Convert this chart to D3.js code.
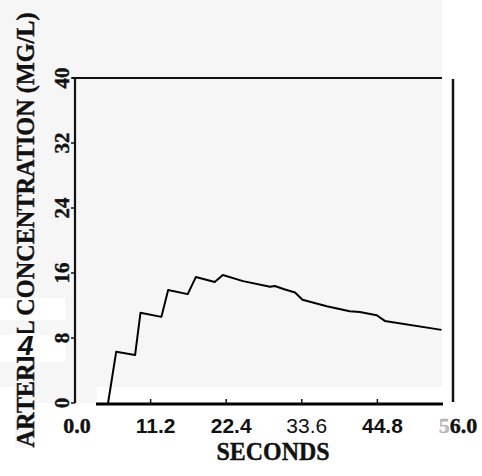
<!DOCTYPE html>
<meta charset="utf-8">
<style>
body { margin: 0; background: #fff; }
.serif { font-family: "Liberation Serif", "Times New Roman", serif; font-weight: bold; fill: #111; stroke: #111; stroke-width: 0.4px; }
.sans { font-family: "Liberation Sans", Arial, sans-serif; fill: #111; }
</style>
<body>
<svg width="482" height="476" id="chart"></svg>
<script src="https://d3js.org/d3.v7.min.js"></script>
<script>

// curve
var seconds = [4.9, 6.1, 8.9, 9.7, 12.8, 13.8, 16.7, 17.9, 20.7, 21.9, 24.9, 28.9, 29.6, 31.0, 32.6, 33.7, 37.3, 40.7, 42.2, 44.7, 45.9, 54.3];
var concentration = [0, 6.3, 5.9, 11.1, 10.6, 13.9, 13.4, 15.5, 14.9, 15.75, 15.0, 14.3, 14.4, 14.0, 13.6, 12.7, 11.9, 11.3, 11.2, 10.8, 10.1, 9.0];

var xTicks = [0, 11.2, 22.4, 33.6, 44.8, 56];
var xTickLabels = ["0.0", "11.2", "22.4", "33.6", "44.8", "56.0"];
var yTicks = [0, 8, 16, 24, 32, 40];

var svg = d3.select("svg"),
    width = +svg.attr("width"),
    height = +svg.attr("height");

var x = d3.scaleLinear().domain([0, 56]).range([75, 453]);
var y = d3.scaleLinear().domain([0, 40]).range([403, 78]);

// scanned page background, grey with some white patches
var grey = "#f6f6f6";
svg.append("rect").attr("x", 0).attr("y", 0).attr("width", 442).attr("height", 387).attr("fill", grey);
svg.append("rect").attr("x", 15).attr("y", 387).attr("width", 82).attr("height", 16).attr("fill", grey);
svg.append("rect").attr("x", 15).attr("y", 403).attr("width", 20).attr("height", 45).attr("fill", grey);
svg.append("rect").attr("x", 0).attr("y", 298).attr("width", 65).attr("height", 22).attr("fill", "#fff");
svg.append("rect").attr("x", 0).attr("y", 335).attr("width", 65).attr("height", 27).attr("fill", "#fff");

// frame
svg.append("line").attr("x1", 72).attr("x2", 442).attr("y1", y(40)).attr("y2", y(40))
    .attr("stroke", "#111").attr("stroke-width", 2.2);
svg.append("line").attr("x1", x(56)).attr("x2", x(56)).attr("y1", y(40) + 1).attr("y2", y(0) - 1)
    .attr("stroke", "#111").attr("stroke-width", 2.5);
svg.append("line").attr("x1", x(0)).attr("x2", x(0)).attr("y1", y(40)).attr("y2", y(0))
    .attr("stroke", "#111").attr("stroke-width", 2.2);
svg.append("line").attr("x1", 96).attr("x2", 443).attr("y1", 404).attr("y2", 404)
    .attr("stroke", "#000").attr("stroke-width", 3.2);

// y ticks + rotated labels
svg.selectAll(".ytick").data(yTicks).enter().append("line")
    .attr("class", "ytick")
    .attr("x1", x(0) - 4).attr("x2", x(0))
    .attr("y1", d => y(d)).attr("y2", d => y(d))
    .attr("stroke", "#111").attr("stroke-width", 1.5);

svg.selectAll(".ylab").data(yTicks).enter().append("text")
    .attr("class", "ylab serif")
    .attr("font-size", 21)
    .attr("text-anchor", "middle")
    .attr("transform", d => "translate(69," + y(d) + ") rotate(-90)")
    .text(d => d);

// x ticks (pointing into the plot)
svg.selectAll(".xtick").data(xTicks.slice(1, 5)).enter().append("line")
    .attr("class", "xtick")
    .attr("x1", d => x(d)).attr("x2", d => x(d))
    .attr("y1", 399).attr("y2", 404)
    .attr("stroke", "#111").attr("stroke-width", 1.5);

var xl = svg.selectAll(".xlab").data(xTicks).enter().append("text")
    .attr("x", (d, i) => x(d) + (i == 0 ? 2 : 5))
    .attr("y", 433)
    .attr("text-anchor", "middle")
    .attr("class", (d, i) => (i == 0 || i == 5) ? "xlab serif" : "xlab sans")
    .attr("font-size", (d, i) => (i == 0 || i == 5) ? 22 : 21)
    .attr("font-weight", (d, i) => i == 3 ? "normal" : "bold");

xl.filter((d, i) => i < 5).text((d, i) => xTickLabels[i]);
// last label: first digit is mostly lost in the scan
var last = xl.filter((d, i) => i == 5);
last.append("tspan").attr("fill-opacity", 0.3).attr("stroke-opacity", 0.3).text(xTickLabels[5].slice(0, 1));
last.append("tspan").text(xTickLabels[5].slice(1));

// axis titles
svg.append("text")
    .attr("class", "serif")
    .attr("font-size", 26)
    .attr("text-anchor", "middle")
    .attr("textLength", 113)
    .attr("lengthAdjust", "spacingAndGlyphs")
    .attr("x", 273).attr("y", 460)
    .text("SECONDS");

svg.append("text")
    .attr("class", "serif")
    .attr("font-size", 25)
    .attr("text-anchor", "middle")
    .attr("textLength", 435)
    .attr("lengthAdjust", "spacingAndGlyphs")
    .attr("transform", "translate(34,230) rotate(-90)")
    .text("ARTERIAL CONCENTRATION (MG/L)");

// stray glyph on the scan, over a blanked bit of the title
svg.append("rect").attr("x", 14).attr("y", 333).attr("width", 26).attr("height", 24).attr("fill", "#fff");
svg.append("text")
    .attr("class", "sans")
    .attr("font-size", 28)
    .attr("font-weight", "bold")
    .attr("font-style", "italic")
    .attr("x", 18).attr("y", 355)
    .text("4");

// concentration curve
var line = d3.line()
    .x((d, i) => x(seconds[i]))
    .y(d => y(d));

svg.append("path")
    .datum(concentration)
    .attr("fill", "none")
    .attr("stroke", "#000")
    .attr("stroke-width", 2)
    .attr("stroke-linejoin", "round")
    .attr("d", line);

</script>
</body>
